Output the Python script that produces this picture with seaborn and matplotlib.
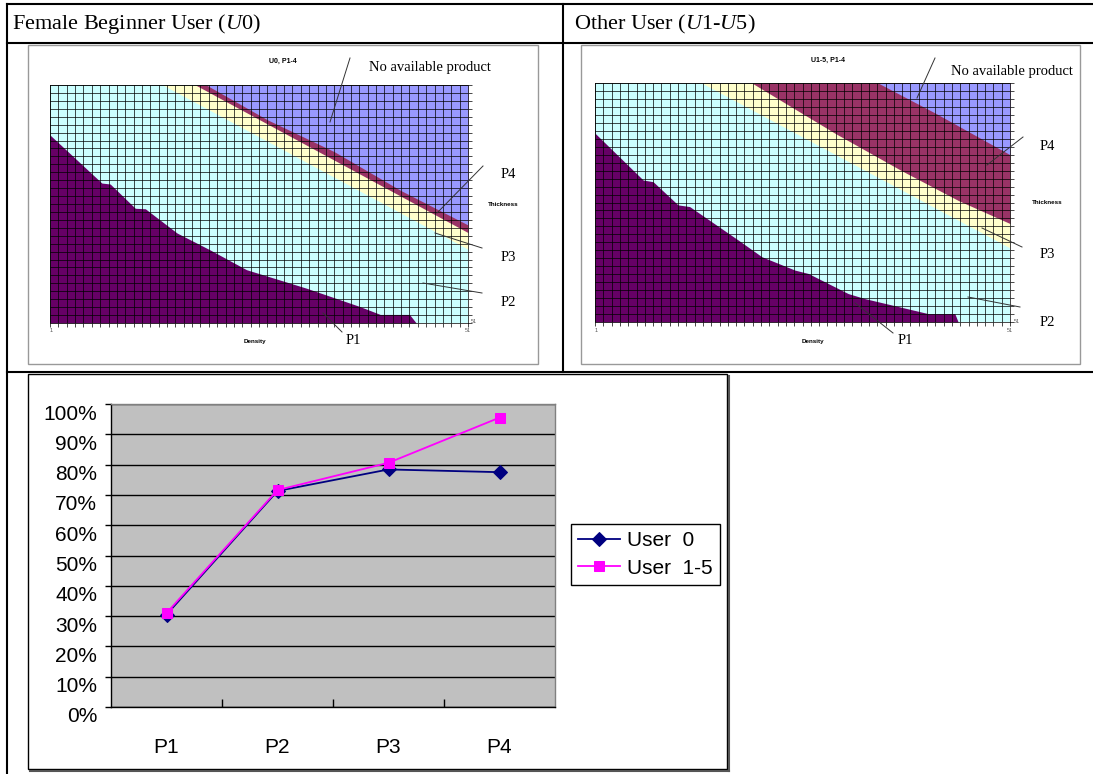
import numpy as np
import pandas as pd
import matplotlib
matplotlib.use('Agg')
import matplotlib.pyplot as plt
import matplotlib.transforms as mtransforms
from matplotlib.lines import Line2D
from matplotlib.patches import Rectangle
import seaborn as sns

#header texts
header_left = 'Female Beginner User ($\\mathit{U0}$)'
header_right = 'Other User ($\\mathit{U1}$-$\\mathit{U5}$)'

#region colours
c_p1 = '#660066'
c_p2 = '#ccffff'
c_p3 = '#ffffcc'
c_p4 = '#993366'
c_na = '#9999ff'

#U0 map: region boundaries (density -> thickness)
u0_p1_x = [1, 7.2, 8.2, 11.2, 12.4, 16.2, 20.1, 24.5, 31.7, 38, 40.5, 44, 44.8, 51]
u0_p1_y = [11.5, 21.6, 21.8, 26.9, 27, 32.1, 35.6, 39.8, 43.7, 47.5, 49.2, 49.2, 51, 51]
u0_p3_x = [1, 14.5, 51]
u0_p3_y = [1, 1, 35.5]
u0_p4_x = [1, 18.4, 51]
u0_p4_y = [1, 1, 32]
u0_na_x = [1, 19.7, 27, 35, 43, 51]
u0_na_y = [1, 1, 8.3, 15.0, 23.2, 30.4]

#U1-5 map
u15_p1_x = [1, 6.8, 8, 11, 12.4, 18.25, 21.1, 25.1, 26.7, 31.5, 33.5, 41.15, 44.35, 44.75, 51]
u15_p1_y = [11.5, 21.3, 21.65, 26.5, 26.85, 33.85, 37.35, 40.15, 40.85, 45.05, 46.1, 49.25, 49.25, 51, 51]
u15_p3_x = [1, 13.85, 51]
u15_p3_y = [1, 1, 35.5]
u15_p4_x = [1, 19.9, 30, 38, 44.8, 51]
u15_p4_y = [1, 1, 11.6, 19.4, 25.6, 30.4]
u15_na_x = [1, 35.1, 42, 51]
u15_na_y = [1, 1, 7.3, 16]

#line chart data (%)
products = ['P1', 'P2', 'P3', 'P4']
user0 = [30.5, 71.3, 78.4, 77.5]
user15 = [31.0, 71.6, 80.6, 95.5]

plt.rcParams['mathtext.fontset'] = 'custom'
plt.rcParams['mathtext.rm'] = 'Liberation Serif'
plt.rcParams['mathtext.it'] = 'Liberation Serif:italic'

W, H = 1093, 774
fig = plt.figure(figsize=(W / 100, H / 100), dpi=100)
fig.patch.set_facecolor('white')

def fx(px):
    return px / W

def fy(py):
    return 1 - py / H

def px_axes(x0, y0, x1, y1):
    return fig.add_axes([fx(x0), fy(y1), (x1 - x0) / W, (y1 - y0) / H])

def fig_line(x0, y0, x1, y1, lw=0.7, color='#333333'):
    fig.add_artist(Line2D([fx(x0), fx(x1)], [fy(y0), fy(y1)],
                          transform=fig.transFigure, color=color, lw=lw))

def note(x, y, s, size=10.5, family='Liberation Serif', weight='normal', color='black'):
    fig.text(fx(x), fy(y), s, ha='center', va='center', fontsize=size,
             family=family, weight=weight, color=color)

#table lines
fig_line(7, 4, 1093, 4, lw=1.5, color='black')
fig_line(7, 43, 1093, 43, lw=1.5, color='black')
fig_line(7, 372, 1093, 372, lw=1.5, color='black')
fig_line(7, 4, 7, 774, lw=1.5, color='black')
fig_line(563, 4, 563, 372, lw=1.5, color='black')

fig.text(fx(12), fy(24), header_left, ha='left', va='center', fontsize=16, family='Liberation Serif')
fig.text(fx(574), fy(24), header_right, ha='left', va='center', fontsize=16, family='Liberation Serif')

#picture frames
for x0, x1 in [(28, 538), (581, 1080)]:
    fig.add_artist(Rectangle((fx(x0), fy(364)), (x1 - x0) / W, (364 - 45) / H, fill=False,
                             ec='#999999', lw=1, transform=fig.transFigure))

def draw_map(ax, p1x, p1y, p3x, p3y, p4x, p4y, nax, nay):
    ax.set_facecolor(c_p2)
    ax.fill_between(p3x, 1, p3y, color=c_p3, lw=0)
    ax.fill_between(p4x, 1, p4y, color=c_p4, lw=0)
    ax.fill_between(nax, 1, nay, color=c_na, lw=0)
    ax.fill_between(p1x, p1y, 51, color=c_p1, lw=0)
    ax.set_xlim(1, 51)
    ax.set_ylim(51, 1)
    ax.set_xticks(np.arange(1, 52))
    ax.set_yticks(np.linspace(1, 51, 31))
    ax.set_axisbelow(False)
    ax.grid(True, color='black', lw=0.5)
    ax.tick_params(axis='x', bottom=True, direction='out', length=3, width=0.5, labelbottom=False)
    ax.tick_params(axis='y', left=False, right=True, direction='out', length=3, width=0.5,
                   labelleft=False, labelright=False)
    for s in ax.spines.values():
        s.set_linewidth(0.5)

ax1 = px_axes(50, 85, 468, 323)
draw_map(ax1, u0_p1_x, u0_p1_y, u0_p3_x, u0_p3_y, u0_p4_x, u0_p4_y, u0_na_x, u0_na_y)
ax2 = px_axes(595, 83, 1010, 322)
draw_map(ax2, u15_p1_x, u15_p1_y, u15_p3_x, u15_p3_y, u15_p4_x, u15_p4_y, u15_na_x, u15_na_y)

#left map labels
note(283, 61, 'U0, P1-4', size=5, family='Liberation Sans', weight='bold')
note(430, 67, 'No available product')
fig_line(350, 58, 330, 122)
note(508, 175, 'P4')
fig_line(483, 166, 437, 213)
note(503, 204, 'Thickness', size=4.5, family='Liberation Sans', weight='bold')
note(508, 258, 'P3')
fig_line(482, 248, 435, 233)
note(508, 302, 'P2')
fig_line(482, 293, 423, 283)
note(353, 341, 'P1')
fig_line(323, 313, 342, 332)
note(255, 342, 'Density', size=4.5, family='Liberation Sans', weight='bold')
note(51, 330, '1', size=4, family='Liberation Sans', color='#555555')
note(468, 330, '51', size=4, family='Liberation Sans', color='#555555')
note(474, 321, '51', size=4, family='Liberation Sans', color='#555555')

#right map labels
note(828, 60, 'U1-5, P1-4', size=5, family='Liberation Sans', weight='bold')
note(1012, 71, 'No available product')
fig_line(935, 58, 917, 98)
note(1047, 146, 'P4')
fig_line(1023, 137, 987, 165)
note(1047, 203, 'Thickness', size=4.5, family='Liberation Sans', weight='bold')
note(1047, 255, 'P3')
fig_line(1022, 247, 982, 228)
note(1047, 322, 'P2')
fig_line(1020, 307, 968, 297)
note(905, 340, 'P1')
fig_line(855, 303, 893, 333)
note(813, 342, 'Density', size=4.5, family='Liberation Sans', weight='bold')
note(596, 330, '1', size=4, family='Liberation Sans', color='#555555')
note(1010, 330, '51', size=4, family='Liberation Sans', color='#555555')
note(1017, 321, '51', size=4, family='Liberation Sans', color='#555555')

#line chart frame with shadow
fig_line(30, 771, 729, 771, lw=1.5, color='#555555')
fig_line(729, 376, 729, 771, lw=1.5, color='#555555')
fig.add_artist(Rectangle((fx(28), fy(769)), (727 - 28) / W, (769 - 374) / H, fill=False,
                         ec='black', lw=1, transform=fig.transFigure))

df = pd.DataFrame({'product': products * 2,
                   'value': user0 + user15,
                   'series': ['User  0'] * 4 + ['User  1-5'] * 4})

ax3 = px_axes(111, 404, 555, 707)
ax3.set_facecolor('#c0c0c0')
sns.lineplot(data=df, x='product', y='value', hue='series', style='series',
             markers={'User  0': 'D', 'User  1-5': 's'}, dashes=False,
             palette={'User  0': '#000080', 'User  1-5': '#ff00ff'},
             markersize=7, lw=1.3, ax=ax3)
for ln in ax3.lines:
    ln.set_markeredgecolor(ln.get_color())
ax3.set_xlim(-0.5, 3.5)
ax3.set_ylim(0, 100)
ax3.set_xlabel('')
ax3.set_ylabel('')
ax3.set_yticks(np.arange(0, 101, 10))
ax3.set_yticklabels([f'{v}%' for v in range(0, 101, 10)])
ax3.set_xticks(range(4))
ax3.set_xticklabels(products)
ax3.set_xticks([0.5, 1.5, 2.5], minor=True)
ax3.yaxis.grid(True, color='black', lw=1)
ax3.xaxis.grid(False)
ax3.set_axisbelow(True)
ax3.tick_params(axis='x', which='major', length=0, pad=22, labelsize=15)
ax3.tick_params(axis='x', which='minor', direction='in', length=6, width=1)
ax3.tick_params(axis='y', direction='out', length=4, width=1, pad=6, labelsize=15)
for lab in ax3.get_xticklabels() + ax3.get_yticklabels():
    lab.set_family('Liberation Sans')
offset = mtransforms.ScaledTranslation(0, -8 / 100, fig.dpi_scale_trans)
for lab in ax3.get_yticklabels():
    lab.set_transform(lab.get_transform() + offset)
for side in ['left', 'bottom']:
    ax3.spines[side].set_color('black')
    ax3.spines[side].set_linewidth(1)
for side in ['top', 'right']:
    ax3.spines[side].set_color('#808080')
    ax3.spines[side].set_linewidth(1)

handles, labels = ax3.get_legend_handles_labels()
for h in handles:
    h.set_markeredgecolor(h.get_color())
leg = ax3.legend(handles, labels, loc='upper left', bbox_to_anchor=(fx(571), fy(524)),
                 bbox_transform=fig.transFigure, frameon=True, fancybox=False,
                 edgecolor='black', framealpha=1, borderpad=0.35, handlelength=2.0,
                 handletextpad=0.35, labelspacing=0.4, borderaxespad=0,
                 prop={'family': 'Liberation Sans', 'size': 15})
leg.get_frame().set_linewidth(1)

plt.savefig('out.png', dpi=100)
